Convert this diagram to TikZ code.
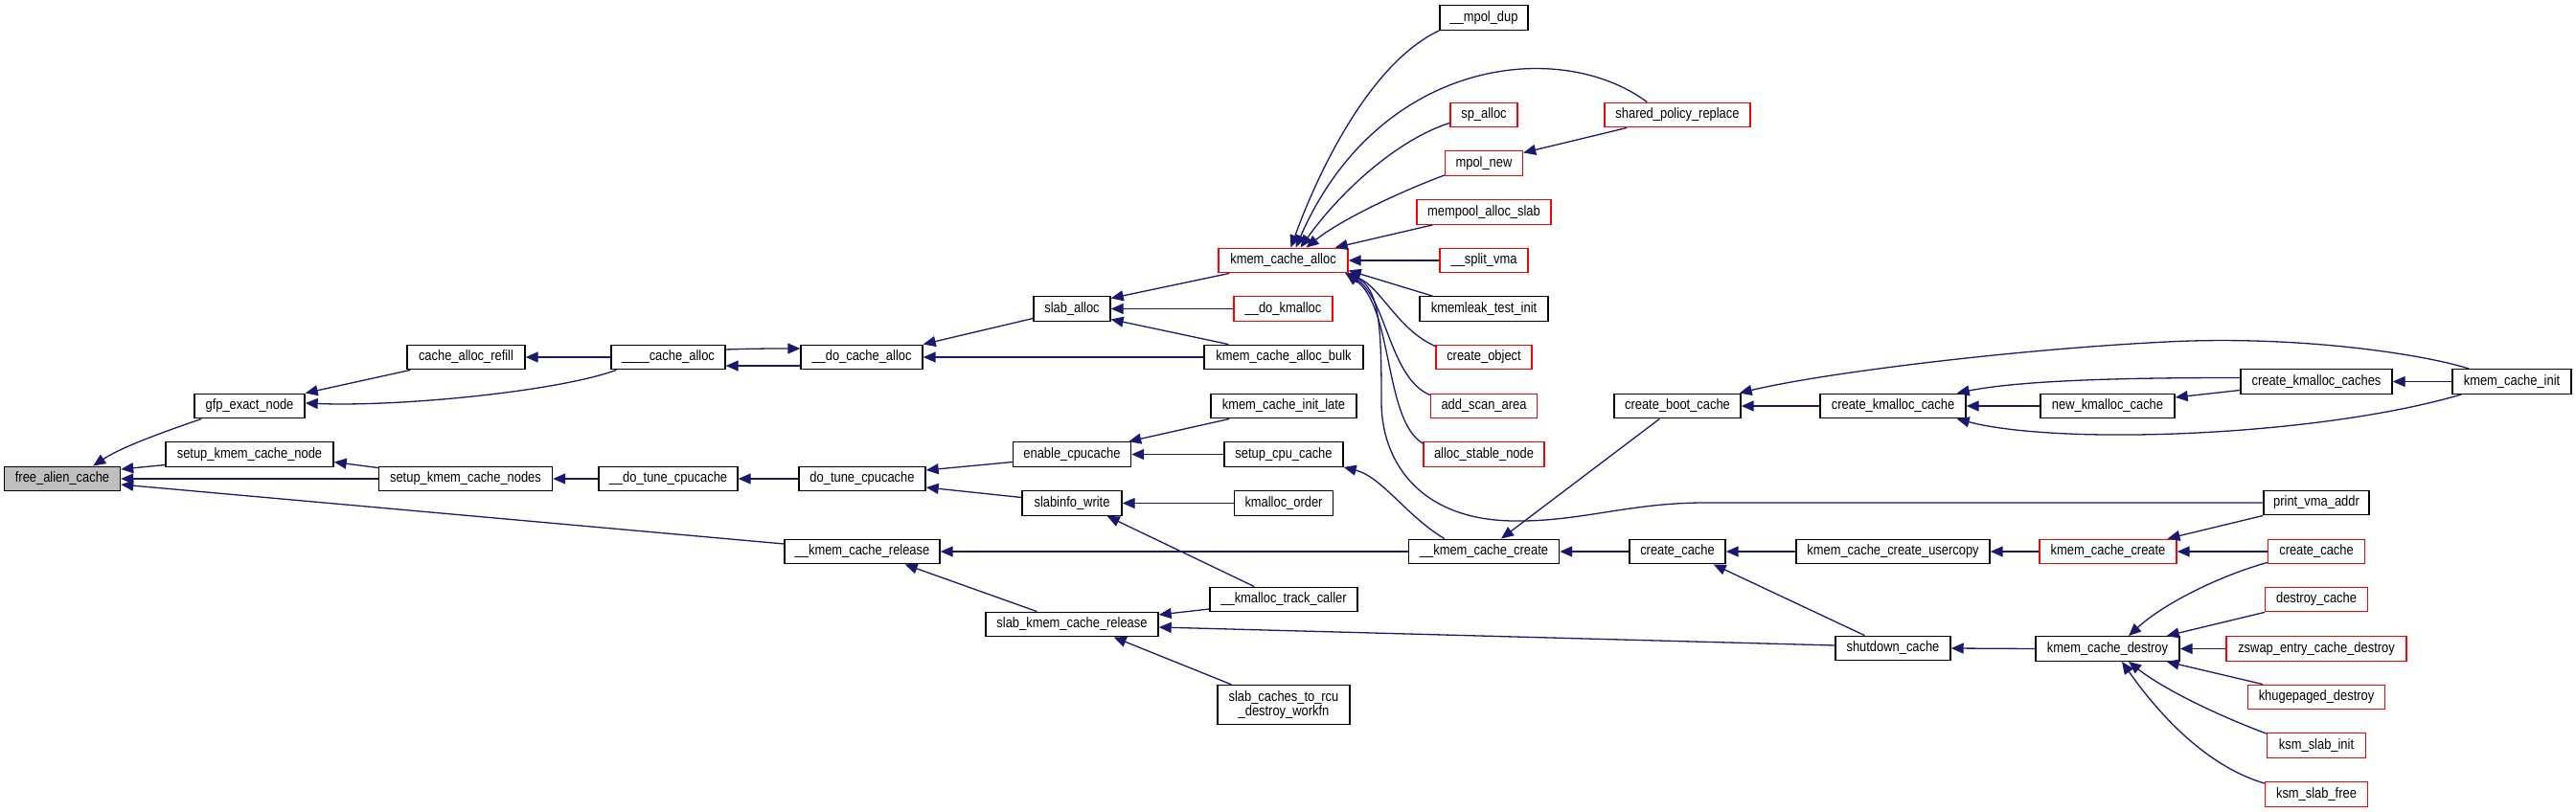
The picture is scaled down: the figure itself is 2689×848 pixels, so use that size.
\documentclass[tikz,border=0pt]{standalone}
\usepackage{fontspec}
\setmainfont{Liberation Sans}[FakeStretch=0.86]
\usetikzlibrary{arrows.meta,calc}
\definecolor{edgec}{HTML}{191970}
\definecolor{redc}{HTML}{FF0000}
\definecolor{grayfill}{HTML}{BFBFBF}
\tikzset{
 fn/.style={draw=black, line width=1.4pt, minimum height=25.5pt, inner sep=0pt, font=\fontsize{15}{15}\selectfont, text=black, fill=white},
 fnred/.style={fn, draw=redc},
 fnroot/.style={fn, fill=grayfill},
 edge/.style={draw=edgec, line width=1.3pt, -{Triangle[length=13pt,width=11pt]}},
}
\begin{document}
\begin{tikzpicture}[x=1pt,y=-1pt]
\fill[white] (0,0) rectangle (2689,848);
\useasboundingbox (0,0) rectangle (2689,848);

\node[fnroot, minimum width=121pt] (fac) at (65,500) {free\_alien\_cache};
\node[fn, minimum width=115pt] (gfp) at (260.5,424) {gfp\_exact\_node};
\node[fn, minimum width=123pt] (car) at (486.5,373) {cache\_alloc\_refill};
\node[fn, minimum width=175pt] (skcn) at (260.5,474.5) {setup\_kmem\_cache\_node};
\node[fn, minimum width=181pt] (skcns) at (486,500) {setup\_kmem\_cache\_nodes};
\node[fn, minimum width=119pt] (uca) at (697.5,373) {\_\_\_\_cache\_alloc};
\node[fn, minimum width=145pt] (dtcu) at (697.5,500) {\_\_do\_tune\_cpucache};
\node[fn, minimum width=127pt] (dca) at (899.5,373) {\_\_do\_cache\_alloc};
\node[fn, minimum width=132pt] (dtc) at (900,500) {do\_tune\_cpucache};
\node[fn, minimum width=162pt] (kcr) at (900,576) {\_\_kmem\_cache\_release};
\node[fn, minimum width=80pt] (sa) at (1119,322.5) {slab\_alloc};
\node[fn, minimum width=123pt] (ec) at (1119,474.5) {enable\_cpucache};
\node[fn, minimum width=104pt] (sw) at (1119,525.5) {slabinfo\_write};
\node[fn, minimum width=180pt] (skcr) at (1119,652) {slab\_kmem\_cache\_release};
\node[fnred, minimum width=135pt] (kca) at (1339.5,272) {kmem\_cache\_alloc};
\node[fnred, minimum width=103pt] (dkm) at (1339.5,322.5) {\_\_do\_kmalloc};
\node[fn, minimum width=166pt] (kcab) at (1340,373) {kmem\_cache\_alloc\_bulk};
\node[fn, minimum width=152pt] (kcil) at (1340,424) {kmem\_cache\_init\_late};
\node[fn, minimum width=124pt] (scc) at (1340,474.5) {setup\_cpu\_cache};
\node[fn, minimum width=103pt] (ko) at (1340,525.5) {kmalloc\_order};
\node[fn, minimum width=154pt] (ktc) at (1340,626) {\_\_kmalloc\_track\_caller};
\node[fn, minimum width=138pt, minimum height=41pt, align=center] (rcu) at (1340,736) {slab\_caches\_to\_rcu\\\_destroy\_workfn};
\node[fn, minimum width=92pt] (mdup) at (1549,18.5) {\_\_mpol\_dup};
\node[fnred, minimum width=70pt] (spa) at (1549,120) {sp\_alloc};
\node[fnred, minimum width=81pt] (mpn) at (1549,170.5) {mpol\_new};
\node[fnred, minimum width=140pt] (mas) at (1549,221.5) {mempool\_alloc\_slab};
\node[fnred, minimum width=92pt] (svma) at (1549,272) {\_\_split\_vma};
\node[fn, minimum width=134pt] (kti) at (1549,322.5) {kmemleak\_test\_init};
\node[fnred, minimum width=100pt] (cobj) at (1549,373) {create\_object};
\node[fnred, minimum width=111pt] (asa) at (1549,424) {add\_scan\_area};
\node[fnred, minimum width=126pt] (asn) at (1549,474.5) {alloc\_stable\_node};
\node[fn, minimum width=157pt] (ukcc) at (1549,576) {\_\_kmem\_cache\_create};
\node[fnred, minimum width=152pt] (spr) at (1751,120) {shared\_policy\_replace};
\node[fn, minimum width=132pt] (cbc) at (1751,424) {create\_boot\_cache};
\node[fn, minimum width=100pt] (cc) at (1751,576) {create\_cache};
\node[fn, minimum width=152pt] (ckc) at (1976,424) {create\_kmalloc\_cache};
\node[fn, minimum width=202pt] (kccu) at (1976,576) {kmem\_cache\_create\_usercopy};
\node[fn, minimum width=120pt] (sc) at (1976,677) {shutdown\_cache};
\node[fn, minimum width=140pt] (nkc) at (2200,424) {new\_kmalloc\_cache};
\node[fnred, minimum width=143pt] (kcc) at (2200.5,576) {kmem\_cache\_create};
\node[fn, minimum width=150pt] (kcd) at (2200,677.5) {kmem\_cache\_destroy};
\node[fn, minimum width=158pt] (ckcs) at (2418,398.5) {create\_kmalloc\_caches};
\node[fn, minimum width=110pt] (pva) at (2418,525) {print\_vma\_addr};
\node[fnred, minimum width=101pt] (ccr) at (2418,576) {create\_cache};
\node[fnred, minimum width=107pt] (dc) at (2418,626) {destroy\_cache};
\node[fnred, minimum width=188pt] (zecd) at (2418,677.5) {zswap\_entry\_cache\_destroy};
\node[fnred, minimum width=143pt] (khd) at (2418,728) {khugepaged\_destroy};
\node[fnred, minimum width=103pt] (ksi) at (2418,778.5) {ksm\_slab\_init};
\node[fnred, minimum width=107pt] (ksf) at (2418,829.5) {ksm\_slab\_free};
\node[fn, minimum width=124pt] (kci) at (2622,398.5) {kmem\_cache\_init};

% edges
\draw[edge] ($(gfp.south west)+(8,0)$) .. controls +(-35,12) and +(30,-20) .. ($(fac.north east)+(-29,0)$);
\draw[edge] ($(uca.south west)+(6,0)$) .. controls +(-60,22) and +(100,4) .. ($(gfp.east)+(0,-3)$);
\draw[edge] ($(car.south west)+(4,0)$) -- (gfp.north east);
\draw[edge] (uca.west) -- (car.east);
\draw[edge] ($(uca.east)+(0,-8)$) .. controls +(30,-1) and +(-30,0) .. ($(dca.west)+(0,-9)$);
\draw[edge] ($(dca.west)+(0,9)$) .. controls +(-30,0) and +(30,0) .. ($(uca.east)+(0,9)$);
\draw[edge] ($(sa.west)+(0,10)$) -- (dca.north east);
\draw[edge] (kcab.west) -- (dca.east);
\draw[edge] ($(kca.south west)+(12,0)$) -- ($(sa.east)+(0,-11)$);
\draw[edge] (dkm.west) -- (sa.east);
\draw[edge] ($(kcab.north west)+(26,0)$) -- ($(sa.east)+(0,11)$);

\draw[edge] (mdup.south west) .. controls +(-75,35) and +(25,-70) .. ($(kca.north)+(8,0)$);
\draw[edge] ($(spr.north west)+(45,0)$) .. controls +(-90,-67) and +(87,-199) .. ($(kca.north)+(13,0)$);
\draw[edge] ($(spa.south west)+(0,-5)$) .. controls +(-54,17) and +(42,-59) .. ($(kca.north)+(18,0)$);
\draw[edge] ($(mpn.south west)+(0,-1)$) .. controls +(-48,18) and +(36,-29) .. ($(kca.north)+(24,0)$);
\draw[edge] ($(spr.south west)+(24,0)$) -- ($(mpn.east)+(0,-11)$);
\draw[edge] ($(mas.south west)+(17,0)$) -- ($(kca.north east)+(-14,0)$);
\draw[edge] (svma.west) -- (kca.east);
\draw[edge] ($(kti.north west)+(14,0)$) -- ($(kca.south east)+(0,-3)$);
\draw[edge] ($(cobj.north west)+(0,2)$) .. controls +(-39,-17) and +(35,15) .. ($(kca.south east)+(-1,0)$);
\draw[edge] ($(asa.north west)+(0,2)$) .. controls +(-43,-18) and +(43,25) .. ($(kca.south east)+(-3,0)$);
\draw[edge] ($(asn.north west)+(0,2)$) .. controls +(-41,-24) and +(50,35) .. ($(kca.south east)+(-3,0)$);
\draw[edge] (pva.west) -- (1780,525) .. controls (1700,525) and (1650,545) .. (1580,544) .. controls (1480,543) and (1442,480) .. (1442,420) .. controls (1442,340) and (1440,300) .. ($(kca.south east)+(-4,0)$);

\draw[edge] ($(skcns.north west)+(0,2)$) -- ($(skcn.east)+(0,8)$);
\draw[edge] (skcns.west) -- (fac.east);
\draw[edge] ($(kcr.west)+(0,-8)$) -- ($(fac.east)+(0,6)$);
\draw[edge] ($(skcn.west)+(0,11)$) -- ($(fac.east)+(0,-10)$);
\draw[edge] (dtcu.west) -- (skcns.east);
\draw[edge] (dtc.west) -- (dtcu.east);
\draw[edge] ($(ec.west)+(0,8)$) -- ($(dtc.east)+(0,-9)$);
\draw[edge] ($(sw.west)+(0,-6)$) -- ($(dtc.east)+(0,9)$);
\draw[edge] ($(kcil.south west)+(20,0)$) -- ($(ec.north east)+(-3,0)$);
\draw[edge] (scc.west) -- (ec.east);
\draw[edge] ($(ukcc.north west)+(38,0)$) .. controls +(-39,-23) and +(40,10) .. (scc.south east);
\draw[edge] (ko.west) -- (sw.east);
\draw[edge] ($(ktc.north west)+(47,0)$) -- ($(sw.south east)+(-16,0)$);
\draw[edge] (ukcc.west) -- (kcr.east);
\draw[edge] ($(skcr.north west)+(54,0)$) -- ($(kcr.south east)+(-37,0)$);
\draw[edge] ($(ktc.west)+(0,10)$) -- ($(skcr.east)+(0,-10)$);
\draw[edge] ($(sc.west)+(0,-3)$) -- ($(skcr.east)+(0,3)$);
\draw[edge] ($(rcu.north west)+(15,0)$) -- ($(skcr.south east)+(-47,0)$);
\draw[edge] ($(cbc.south west)+(48,0)$) -- ($(ukcc.north)+(18,0)$);
\draw[edge] (cc.west) -- (ukcc.east);
\draw[edge] (ckc.west) -- (cbc.east);
\draw[edge] ($(kci.north west)+(18,0)$) .. controls (2530,370) and (2400,350) .. (2262,357) .. controls (2100,365) and (1900,390) .. ($(cbc.north east)+(-2,0)$);
\draw[edge] (nkc.west) -- (ckc.east);
\draw[edge] ($(ckcs.west)+(0,-4)$) .. controls +(-90,0) and +(75,-15) .. ($(ckc.north east)+(-10,0)$);
\draw[edge] ($(ckcs.west)+(0,9)$) -- ($(nkc.east)+(0,-9)$);
\draw[edge] (kci.west) -- (ckcs.east);
\draw[edge] ($(kci.south west)+(10,0)$) .. controls +(-150,44) and +(108,28) .. ($(ckc.south east)+(-10,0)$);
\draw[edge] (kccu.west) -- (cc.east);
\draw[edge] ($(sc.north west)+(31,0)$) -- ($(cc.south east)+(-13,0)$);
\draw[edge] (kcc.west) -- (kccu.east);
\draw[edge] (pva.south west) -- ($(kcc.north)+(62,0)$);
\draw[edge] (ccr.west) -- (kcc.east);
\draw[edge] (kcd.west) -- (sc.east);
\draw[edge] ($(ccr.south west)+(0,-2)$) .. controls +(-47,13) and +(38,-35) .. ($(kcd.north)+(22,0)$);
\draw[edge] (dc.south west) -- ($(kcd.north east)+(-14,0)$);
\draw[edge] (zecd.west) -- (kcd.east);
\draw[edge] ($(khd.north west)+(16,0)$) -- ($(kcd.south east)+(-14,0)$);
\draw[edge] ($(ksi.north west)+(0,1)$) .. controls +(-46,-17) and +(38,30) .. ($(kcd.south)+(22,0)$);
\draw[edge] ($(ksf.north west)+(0,2)$) .. controls +(-64,-19) and +(35,50) .. ($(kcd.south)+(15,0)$);
\end{tikzpicture}
\end{document}
